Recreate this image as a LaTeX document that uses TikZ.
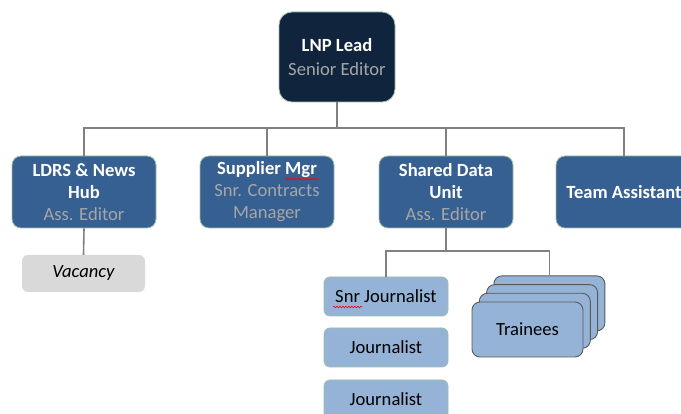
\documentclass[tikz,border=0pt]{standalone}
\usepackage{fontspec}
\setmainfont{Carlito}
\usetikzlibrary{decorations.pathmorphing}
\definecolor{navy}{HTML}{10243E}
\definecolor{midblue}{HTML}{376092}
\definecolor{lightblue}{HTML}{95B3D7}
\definecolor{subgray}{HTML}{A6A6A6}
\definecolor{edgegreen}{HTML}{9DBFA8}
\definecolor{linegray}{HTML}{808080}
\definecolor{vacfill}{HTML}{D9D9D9}
\definecolor{traineeedge}{HTML}{595959}
\tikzset{
  base/.style={rounded corners=9pt, align=center, inner sep=0pt, font=\fontsize{18.6}{22}\selectfont},
  topbox/.style={base, fill=navy, draw=edgegreen, line width=0.8pt, minimum width=116pt, minimum height=90pt, rounded corners=13pt, font=\fontsize{18.6}{24}\selectfont},
  midbox/.style={base, fill=midblue, draw=edgegreen, line width=0.8pt, minimum height=72pt},
  vacbox/.style={base, fill=vacfill, draw=none, minimum width=123pt, minimum height=37pt, rounded corners=6pt},
  jbox/.style={base, fill=lightblue, draw=edgegreen, line width=0.8pt, minimum width=124pt, minimum height=39pt, rounded corners=6pt},
  tbox/.style={base, fill=lightblue, draw=traineeedge, line width=0.9pt, minimum width=111pt, minimum height=55pt, rounded corners=8pt},
  conn/.style={draw=linegray, line width=1.6pt},
  squig/.style={draw=red, line width=0.6pt, decorate, decoration={snake, amplitude=0.8pt, segment length=3pt}},
}
\newcommand{\ttlline}[1]{\textcolor{white}{\bfseries #1}}
\newcommand{\subline}[1]{\textcolor{subgray}{#1}}
\begin{document}
\begin{tikzpicture}[x=1pt,y=-1pt]
\useasboundingbox (0,0) rectangle (681,414);
\clip (0,0) rectangle (681,414);
\fill[white] (0,0) rectangle (681,414);

\coordinate (bus) at (337,128);
\coordinate (bus2) at (446,251);

\node[topbox] (top) at (337,57) {\ttlline{LNP Lead}\\\subline{Senior Editor}};
\node[midbox, minimum width=144pt] (ldrs) at (84,192) {\ttlline{LDRS \& News}\\\ttlline{Hub}\\\subline{Ass. Editor}};
\node[midbox, minimum width=134pt] (sup) at (267,192) {\ttlline{Supplier Mgr}\\\subline{Snr. Contracts}\\\subline{Manager}};
\node[midbox, minimum width=134pt] (sdu) at (446,192) {\ttlline{Shared Data}\\\ttlline{Unit}\\\subline{Ass. Editor}};
\node[midbox, minimum width=136pt] (team) at (624,192) {\ttlline{Team Assistant}};
\node[vacbox] (vac) at (83.5,273.5) {\itshape Vacancy};
\node[jbox] (snr) at (386,296.5) {Snr Journalist};
\node[jbox] (j1) at (386,347.5) {Journalist};
\node[jbox] (j2) at (386,399.5) {Journalist};

\node[tbox] (t4) at (549.4,303.4) {};
\node[tbox] (t3) at (542.1,312.1) {};
\node[tbox] (t2) at (534.8,320.8) {};
\node[tbox] (t1) at (527.5,329.5) {Trainees};

\draw[conn] (top.south) -- (top.south |- bus);
\draw[conn] (ldrs.north) |- (bus) -| (team.north);
\draw[conn] (sup.north) -- (sup.north |- bus);
\draw[conn] (sdu.north) -- (sdu.north |- bus);
\draw[conn] (ldrs.south) -- (vac.north);
\draw[conn] (sdu.south) -- (bus2);
\draw[conn] (snr.north) |- (bus2) -| (t4.north);

\coordinate (sq1a) at (333,307);
\coordinate (sq1b) at (362,307);
\coordinate (sq2a) at (285,179);
\coordinate (sq2b) at (319,179);
\draw[squig] (sq1a) -- (sq1b);
\draw[squig] (sq2a) -- (sq2b);
\end{tikzpicture}
\end{document}
